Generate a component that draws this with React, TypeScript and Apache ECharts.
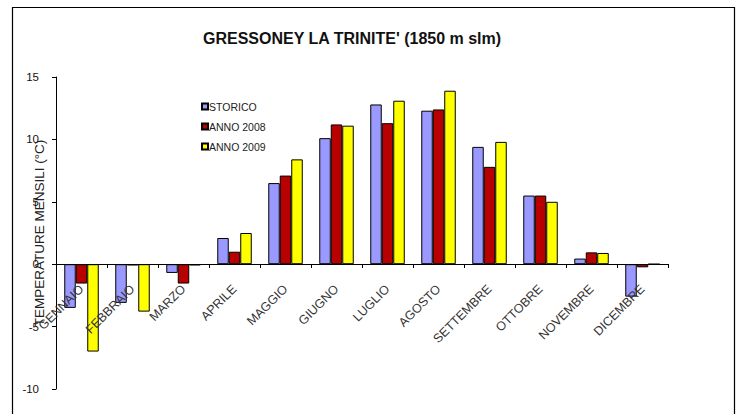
import React, { useEffect, useRef } from "react";
import * as echarts from "echarts";

const months = ["GENNAIO", "FEBBRAIO", "MARZO", "APRILE", "MAGGIO", "GIUGNO", "LUGLIO", "AGOSTO", "SETTEMBRE", "OTTOBRE", "NOVEMBRE", "DICEMBRE"];
const storico = [-3.5, -3.1, -0.7, 2.1, 6.5, 10.1, 12.8, 12.3, 9.4, 5.5, 0.45, -2.6];
const anno2008 = [-1.55, -0.1, -1.55, 1.0, 7.1, 11.2, 11.3, 12.4, 7.8, 5.5, 0.95, -0.25];
const anno2009 = [-7.0, -3.8, -0.1, 2.5, 8.4, 11.1, 13.1, 13.9, 9.8, 5.0, 0.9, 0];
const seriesNames = ["STORICO", "ANNO 2008", "ANNO 2009"];
const seriesColors = ["#9999FF", "#B80000", "#FFFF00"];
const yTicks = { min: -10, max: 15, interval: 5 };

export default function App() {
  const ref = useRef<HTMLDivElement>(null);
  useEffect(() => {
    document.body.style.margin = "0";
    const chart = echarts.init(ref.current!, null, { renderer: "svg" });
    const font = "Liberation Sans, Arial, sans-serif";
    const data = [storico, anno2008, anno2009];
    chart.setOption({
      animation: false,
      backgroundColor: "#fff",
      title: {
        text: "GRESSONEY LA TRINITE' (1850 m slm)",
        left: 198,
        top: 25,
        textStyle: { fontFamily: font, fontSize: 16, fontWeight: "bold", color: "#111" },
      },
      legend: {
        orient: "vertical",
        left: 196,
        top: 96,
        itemWidth: 6,
        itemHeight: 6,
        itemGap: 9,
        icon: "rect",
        data: seriesNames,
        textStyle: { fontFamily: font, fontSize: 10.5, color: "#222", padding: [0, 0, 0, -4] },
      },
      grid: { left: 56, right: 74, top: 77, bottom: 25, containLabel: false, outerBoundsMode: "none" },
      xAxis: {
        type: "category",
        data: months,
        position: "bottom",
        offset: -125,
        z: 5,
        axisLine: { onZero: false, lineStyle: { color: "#000", width: 1 } },
        axisTick: { show: true, length: 4, inside: false, lineStyle: { color: "#000" } },
        axisLabel: { interval: 0, rotate: 45, margin: 23, fontFamily: font, fontSize: 12.5, color: "#333" },
        splitLine: { show: false },
      },
      yAxis: {
        type: "value",
        min: yTicks.min,
        max: yTicks.max,
        interval: yTicks.interval,
        name: "TEMPERATURE MENSILI (°C)",
        nameLocation: "middle",
        nameRotate: 90,
        nameGap: 10,
        nameMoveOverlap: false,
        nameTextStyle: { fontFamily: font, fontSize: 13.5, color: "#222" },
        z: 5,
        axisLine: { show: true, lineStyle: { color: "#000" } },
        axisTick: { show: true, length: 4, lineStyle: { color: "#000" } },
        axisLabel: { fontFamily: font, fontSize: 11.5, color: "#111", margin: 17 },
        splitLine: { show: false },
      },
      series: seriesNames.map((n, i) => ({
        name: n,
        type: "bar",
        data: data[i],
        barWidth: 11.5,
        barGap: "0%",
        itemStyle: { color: seriesColors[i], borderColor: "#000", borderWidth: 1 },
      })),
      graphic: [
        {
          type: "rect",
          shape: { x: 12.5, y: 7.5, width: 722, height: 430 },
          style: { fill: "none", stroke: "#000", lineWidth: 1.2 },
          silent: true,
        },
      ],
    });
    return () => chart.dispose();
  }, []);
  return <div ref={ref} style={{ width: 742, height: 414 }} />;
}
